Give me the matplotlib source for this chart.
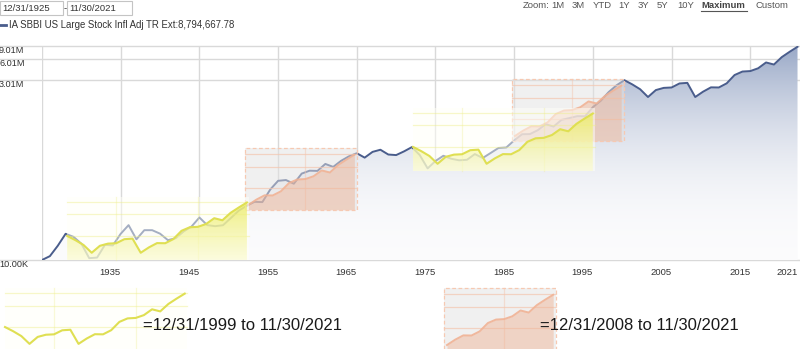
import matplotlib.pyplot as plt
import matplotlib.patches as mpatches
from matplotlib.lines import Line2D
import numpy as np

# IA SBBI US Large Stock Infl Adj TR, growth of 10,000 at each year end
years = list(range(1925, 2022))
growth = [
    10000, 11300, 15700, 23000, 20900, 16800, 10600, 10800, 16200, 15900,            # 1925-1934
    23000, 30300, 19300, 25800, 25800, 23100, 18800, 20000, 24800, 29000,            # 1935-1944
    38600, 30300, 29300, 30200, 38000, 48000, 56000, 63500, 63000, 94000,            # 1945-1954
    124000, 127000, 113000, 156000, 171000, 170000, 212000, 193000, 234000, 270000,  # 1955-1964
    298000, 259000, 311000, 333000, 286000, 281000, 316000, 362000, 281000, 184000,  # 1965-1974
    233000, 275000, 250000, 238000, 242000, 290000, 256000, 300000, 352000, 358000,  # 1975-1984
    448000, 545000, 548000, 620000, 752000, 695000, 860000, 910000, 968000, 965000,  # 1985-1994
    1290000, 1580000, 2080000, 2580000, 3040000, 2660000, 2280000, 1780000, 2220000, 2380000,  # 1995-2004
    2410000, 2740000, 2790000, 1780000, 2110000, 2420000, 2410000, 2750000, 3580000, 4000000,  # 2005-2014
    4060000, 4440000, 5340000, 5000000, 6330000, 7500000, 8794667.78,                # 2015-2021
]
y_ticks = [1e4, 3.01e6, 6.01e6, 9.01e6]
y_tick_labels = ['10.00K', '3.01M', '6.01M', '9.01M']
x_ticks = [1935, 1945, 1955, 1965, 1975, 1985, 1995, 2005, 2015, 2021]
grid_years = [1925, 1935, 1945, 1955, 1965, 1975, 1985, 1995, 2005, 2015]
series_name = 'IA SBBI US Large Stock Infl Adj TR Ext:8,794,667.78'
zoom_items = ['Zoom:', '1M', '3M', 'YTD', '1Y', '3Y', '5Y', '10Y', 'Maximum', 'Custom']
date_from, date_to = '12/31/1925', '11/30/2021'
note_yellow = '=12/31/1999 to 11/30/2021'
note_peach = '=12/31/2008 to 11/30/2021'

# pasted comparison snippets: (start of the pasted copy in years, value where it starts)
yellow_from = 1999
peach_from = 2008
yellow_places = [(1928.2, 21500), (1972.15, 364000), (1920.3, 1187)]
peach_places = [(1951.2, 57500), (1985.1, 516000), (1976.46, 670)]
STRETCH = 1.038

W, H = 800, 349
plt.rcParams['font.family'] = ['Liberation Sans', 'DejaVu Sans']
fig = plt.figure(figsize=(W / 100, H / 100), dpi=100)

def fx(px):
    return px / W

def fy(py):
    return 1 - py / H

LINE_C = '#4a5d8c'
GRID_C = '#d9d9d9'
DEC = np.log10(9.01e6 / 1e4)
PXD = 214 / DEC  # pixels per decade

ax = fig.add_axes([fx(42), fy(260), (800 - 42) / W, (260 - 46) / H])
ax.set_yscale('log')
XLIM = (1925, 1925 + (800 - 42) / 7.87)
YLIM = (1e4, 9.01e6)
ax.set_xlim(*XLIM)
ax.set_ylim(*YLIM)
for s in ax.spines.values():
    s.set_visible(False)


def to_axes(x, v):
    return ax.transAxes.inverted().transform(ax.transData.transform((x, v)))


def gradient_under(xs, vs, floor, top_v, c_top, c_bot, a_top, a_bot, power, z):
    verts = [(xs[0], floor)] + list(zip(xs, vs)) + [(xs[-1], floor)]
    clip = mpatches.Polygon(verts, closed=True, transform=ax.transData,
                            fc='none', ec='none', clip_on=False)
    ax.add_patch(clip)
    x0, y0 = to_axes(xs[0], floor)
    x1, y1 = to_axes(xs[-1], top_v)
    t = np.linspace(0, 1, 256)[:, None] ** power
    rgba = np.zeros((256, 2, 4))
    for c in range(3):
        rgba[:, :, c] = c_bot[c] + (c_top[c] - c_bot[c]) * t
    rgba[:, :, 3] = a_bot + (a_top - a_bot) * t
    im = ax.imshow(rgba, extent=[x0, x1, y0, y1], transform=ax.transAxes,
                   origin='lower', aspect='auto', interpolation='bilinear', zorder=z)
    im.set_clip_path(clip)


# grid
yx = ax.get_yaxis_transform()
for v in y_ticks:
    ax.plot([-42 / 758, 1], [v, v], transform=yx, color=GRID_C, lw=1, clip_on=False, zorder=1)
for yr in grid_years:
    ax.axvline(yr, color=GRID_C, lw=1, zorder=1)
for v, lab in zip(y_ticks, y_tick_labels):
    ax.text(-43 / 758, v, lab, transform=yx, ha='left', va='top', fontsize=6.6,
            color='#333333', clip_on=False)

# main series
gradient_under(years, growth, 1e4, 9.01e6, (0.60, 0.66, 0.78), (0.985, 0.985, 0.99),
               1.0, 1.0, 2.2, 2)
ax.plot(years, growth, color=LINE_C, lw=1.4, zorder=3, solid_joinstyle='round')

ax.set_xticks(x_ticks)
ax.set_xticklabels([str(x) for x in x_ticks])
ax.set_yticks([])
ax.minorticks_off()
ax.tick_params(axis='x', length=0, pad=6, labelsize=6.8, labelcolor='#333333')
for lab in ax.get_xticklabels():
    lab.set_ha('right')


def pasted(place, tail_start, kind, z):
    i0 = years.index(tail_start)
    tail = np.array(growth[i0:], dtype=float)
    yrs = np.array(years[i0:], dtype=float)
    x_start, anchor = place
    xs = x_start + (yrs - tail_start) * STRETCH
    vs = tail * anchor / tail[0]
    k = anchor / tail[0]
    if kind == 'yellow':
        top = anchor * 10 ** (39 / PXD)
        bot = anchor * 10 ** (-24 / PXD)
        bx0, bx1 = xs[0], xs[-1] + 0.3
        ax.add_patch(mpatches.Rectangle((bx0, bot), bx1 - bx0, top - bot, fc='#fffff8',
                                        ec='none', alpha=0.5, zorder=z, clip_on=False))
        gc, ga = '#eeee8a', 0.45
    else:
        top = anchor * 10 ** (57 / PXD)
        bot = anchor * 10 ** (-5 / PXD)
        bx0, bx1 = xs[0] - 0.4, xs[-1] + 0.3
        ax.add_patch(mpatches.Rectangle((bx0, bot), bx1 - bx0, top - bot, fc='#e2e2e2',
                                        ec='none', alpha=0.5, zorder=z, clip_on=False))
        gc, ga = '#f4c6af', 0.7
    # gridlines of the copied chart
    for v in y_ticks[1:]:
        gv = v * k
        if bot < gv < top:
            ax.plot([bx0, bx1], [gv, gv], color=gc, lw=0.9, alpha=ga, zorder=z + 0.1,
                    clip_on=False)
    for gy in grid_years:
        gx = x_start + (gy - tail_start) * STRETCH
        if bx0 < gx < bx1:
            ax.plot([gx, gx], [bot, top], color=gc, lw=0.9, alpha=ga * 0.7, zorder=z + 0.1,
                    clip_on=False)
    if kind == 'yellow':
        gradient_under(xs, vs, bot, top, (0.92, 0.92, 0.34), (0.985, 0.985, 0.80),
                       0.8, 0.6, 1.0, z + 0.2)
        ax.plot(xs, vs, color='#dfdf52', lw=1.5, zorder=z + 0.3, clip_on=False)
    else:
        ax.fill_between(xs, vs, bot, color='#efb497', alpha=0.48, lw=0, zorder=z + 0.2,
                        clip_on=False)
        ax.plot(xs, vs, color='#f1b294', lw=1.4, alpha=0.9, zorder=z + 0.3, clip_on=False)
        ax.add_patch(mpatches.Rectangle((bx0, bot), bx1 - bx0, top - bot, fc='none',
                                        ec='#f6c9b2', lw=0.9, ls=(0, (3, 2)),
                                        zorder=z + 0.4, clip_on=False))


for p in peach_places:
    pasted(p, peach_from, 'peach', 5)
for p in yellow_places:
    pasted(p, yellow_from, 'yellow', 7)

ax.set_xlim(*XLIM)
ax.set_ylim(*YLIM)

# header widgets
for x0, x1, txt in [(0, 63, date_from), (67, 132, date_to)]:
    fig.add_artist(mpatches.Rectangle((fx(x0), fy(15)), fx(x1 - x0), 14 / H,
                                      transform=fig.transFigure, fc='white', ec='#c4c4c4', lw=0.8))
    fig.text(fx(x0 + 2), fy(8.5), txt, fontsize=6.8, color='#333333', va='center')
fig.text(fx(63.5), fy(8.5), '-', fontsize=6.8, color='#333333', va='center')
fig.add_artist(Line2D([fx(0), fx(6)], [fy(25), fy(25)], transform=fig.transFigure,
                      color=LINE_C, lw=2))
fig.text(fx(9), fy(25), series_name, fontsize=6.95, color='#333333', va='center')

zoom_x = [523, 551, 572, 593, 618, 638, 657, 677, 701, 755]
for zx, item in zip(zoom_x, zoom_items):
    bold = item == 'Maximum'
    t = fig.text(fx(zx), fy(5.5), item, fontsize=6.8, va='center',
                 color='#444444' if bold else '#555555',
                 fontweight='bold' if bold else 'normal')
    if bold:
        fig.add_artist(Line2D([fx(zx), fx(zx + 46)], [fy(10.5), fy(10.5)],
                              transform=fig.transFigure, color='#555555', lw=0.8))

# footnotes for the pasted snippets
fig.text(fx(143), fy(325), note_yellow, fontsize=12, color='#1a1a1a', va='center')
fig.text(fx(540), fy(325), note_peach, fontsize=12, color='#1a1a1a', va='center')

fig.savefig('out.png', dpi=100)
